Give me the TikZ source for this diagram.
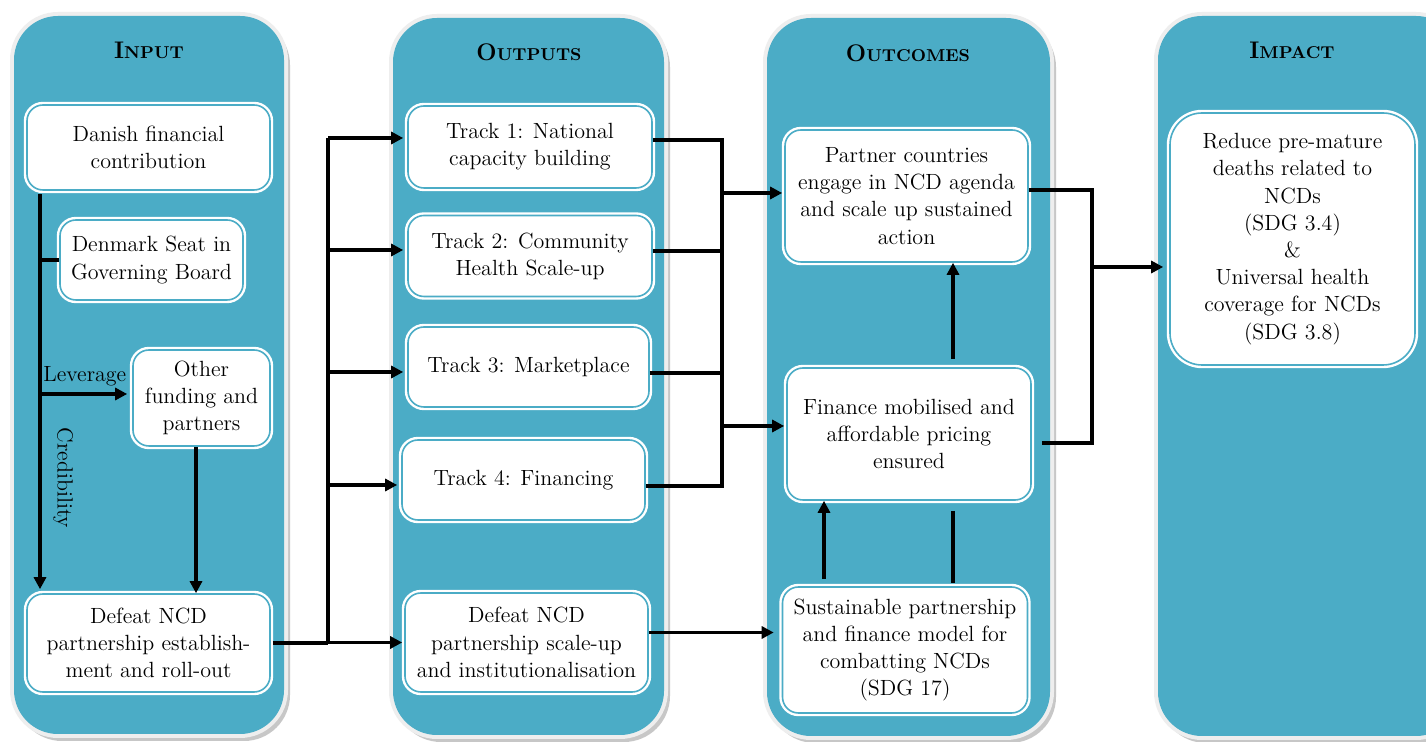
\documentclass[tikz,border=0pt]{standalone}
\usepackage{fontspec}
\usetikzlibrary{arrows.meta}
\definecolor{aqua}{HTML}{4BACC6}
\definecolor{panelrim}{HTML}{EEEEEE}
\newcommand\mypanel[4]{%
  \fill[black!22, rounded corners=23pt] (#1+2,#2+3) rectangle (#3+6,#4+7);
  \fill[panelrim, rounded corners=24pt] (#1-4,#2-4) rectangle (#3+4,#4+4);
  \fill[aqua, rounded corners=22pt] (#1,#2) rectangle (#3,#4);}
\newcommand\hsc[2]{{\fontsize{12}{14}\selectfont #1}{\fontsize{8.6}{14}\selectfont #2}}
\begin{document}
\begin{tikzpicture}[x=0.5pt,y=-0.5pt,
  box/.style={rounded corners=8pt, fill=white, draw=aqua, line width=0.8pt,
    preaction={draw=white, line width=3.2pt}, align=center,
    font=\fontsize{11}{13.6}\selectfont, inner sep=0pt},
  head/.style={font=\bfseries, inner sep=0pt},
  lbl/.style={font=\fontsize{11}{13.6}\selectfont, inner sep=0pt},
  conn/.style={line width=1.75pt},
  arr/.style={conn, -{Triangle[length=6pt,width=6pt]}}]
\clip (0,0) rectangle (1426,742);
\fill[white] (0,0) rectangle (1426,742);
% panels
\mypanel{14}{16}{284}{734}
\mypanel{393}{18}{664}{735}
\mypanel{767}{18}{1050}{736}
\mypanel{1158}{16}{1460}{736}
% headings
\node[head] (hin)  at (149,50) {\hsc{I}{NPUT}};
\node[head] (hout) at (529,52) {\hsc{O}{UTPUTS}};
\node[head] (hoc)  at (908,53) {\hsc{O}{UTCOMES}};
\node[head] (him)  at (1292,50) {\hsc{I}{MPACT}};
% input boxes
\node[box, minimum width=121.5pt, minimum height=42.5pt] (danish) at (148.5,147.5) {Danish financial\\contribution};
\node[box, minimum width=91.5pt, minimum height=40pt] (seat) at (151.5,260) {Denmark Seat in\\Governing Board};
\node[box, minimum width=68.5pt, minimum height=48pt] (other) at (201.5,398) {Other\\funding and\\partners};
\node[box, minimum width=121.5pt, minimum height=49pt] (estab) at (148.5,643) {Defeat NCD\\partnership establish-\\ment and roll-out};
% output boxes
\node[box, minimum width=122pt, minimum height=41pt] (t1) at (530,147) {Track 1: National\\capacity building};
\node[box, minimum width=122pt, minimum height=40.5pt] (t2) at (530,256) {Track 2: Community\\Health Scale-up};
\node[box, minimum width=120.5pt, minimum height=40pt] (t3) at (528.5,367) {Track 3: Marketplace};
\node[box, minimum width=121.5pt, minimum height=40pt] (t4) at (523.5,480) {Track 4: Financing};
\node[box, minimum width=121.5pt, minimum height=49.5pt] (scale) at (526.5,642.5) {Defeat NCD\\partnership scale-up\\and institutionalisation};
% outcome boxes
\node[box, minimum width=121.5pt, minimum height=66pt] (partner) at (906.5,196) {Partner countries\\engage in NCD agenda\\and scale up sustained\\action};
\node[box, minimum width=122pt, minimum height=66pt] (finance) at (909,434) {Finance mobilised and\\affordable pricing\\ensured};
\node[box, minimum width=122.5pt, minimum height=63pt] (sustain) at (905,650) {Sustainable partnership\\and finance model for\\combatting NCDs\\(SDG 17)};
% impact box
\node[box, rounded corners=16pt, minimum width=122.5pt, minimum height=126pt] (impact) at (1292.5,239) {Reduce pre-mature\\deaths related to\\NCDs\\(SDG 3.4)\\\&\\Universal health\\coverage for NCDs\\(SDG 3.8)};
% helper coordinates
\coordinate (xL) at (40,0);
\coordinate (xO) at (196,0);
\coordinate (xB) at (328,0);
\coordinate (xC) at (722,0);
\coordinate (xA) at (953,0);
\coordinate (xS) at (824,0);
\coordinate (xD) at (1092,0);
% input connectors
\draw[arr] ([yshift=-1.5pt]danish.south -| xL) -- ([yshift=2pt]estab.north -| xL);
\draw[conn] (seat.west -| xL) -- (seat.west);
\draw[arr, shorten >=2.5pt] ([yshift=2pt]other.west -| xL) -- ([yshift=2pt]other.west);
\draw[arr] (other.south -| xO) -- (estab.north -| xO);
\node[lbl, anchor=south west] (lev) at (43,386) {Leverage};
\node[lbl, rotate=-90] (cred) at (63,478) {Credibility};
% input -> outputs
\draw[conn] ([xshift=1pt]estab.east) -- (estab.east -| xB);
\draw[conn] ([yshift=4.5pt]t1.west -| xB) -- (scale.west -| xB);
\draw[arr, shorten >=2pt] ([yshift=4.5pt]t1.west -| xB) -- ([yshift=4.5pt]t1.west);
\draw[arr, shorten >=2pt] ([yshift=3pt]t2.west -| xB) -- ([yshift=3pt]t2.west);
\draw[arr, shorten >=2pt] ([yshift=-2.5pt]t3.west -| xB) -- ([yshift=-2.5pt]t3.west);
\draw[arr, shorten >=2pt] ([yshift=-2.5pt]t4.west -| xB) -- ([yshift=-2.5pt]t4.west);
\draw[arr, shorten >=1pt] (scale.west -| xB) -- (scale.west);
% outputs -> outcomes
\draw[conn] ([yshift=3.5pt]t1.east) -- ([yshift=3.5pt]t1.east -| xC);
\draw[conn] ([yshift=2.5pt]t2.east) -- ([yshift=2.5pt]t2.east -| xC);
\draw[conn] ([yshift=-3pt]t3.east) -- ([yshift=-3pt]t3.east -| xC);
\draw[conn] ([yshift=-3pt]t4.east) -- ([yshift=-3pt]t4.east -| xC);
\draw[conn] ([yshift=4.3pt]t1.east -| xC) -- ([yshift=-3.8pt]t4.east -| xC);
\draw[arr, shorten >=1pt] ([yshift=1.5pt]partner.west -| xC) -- ([yshift=1.5pt]partner.west);
\draw[arr, shorten >=1pt] ([yshift=4pt]finance.west -| xC) -- ([yshift=4pt]finance.west);
\draw[arr, shorten >=4pt] ([yshift=5pt]scale.east) -- ([yshift=5pt]scale.east -| sustain.west);
% within outcomes
\draw[arr] ([yshift=4pt]finance.north -| xA) -- (partner.south -| xA);
\draw[arr] ([yshift=3.5pt]sustain.north -| xS) -- (finance.south -| xS);
\draw[conn] ([yshift=-5pt]finance.south -| xA) -- ([yshift=1.5pt]sustain.north -| xA);
% outcomes -> impact
\draw[conn] ([yshift=3pt]partner.east) -- ([yshift=3pt]partner.east -| xD);
\draw[conn] ([xshift=5pt,yshift=-4.5pt]finance.east) -- ([yshift=-4.5pt]finance.east -| xD);
\draw[conn] ([yshift=3.9pt]partner.east -| xD) -- ([yshift=-5.4pt]finance.east -| xD);
\draw[arr, shorten >=3pt] ([yshift=-14pt]impact.west -| xD) -- ([yshift=-14pt]impact.west);
\end{tikzpicture}
\end{document}
